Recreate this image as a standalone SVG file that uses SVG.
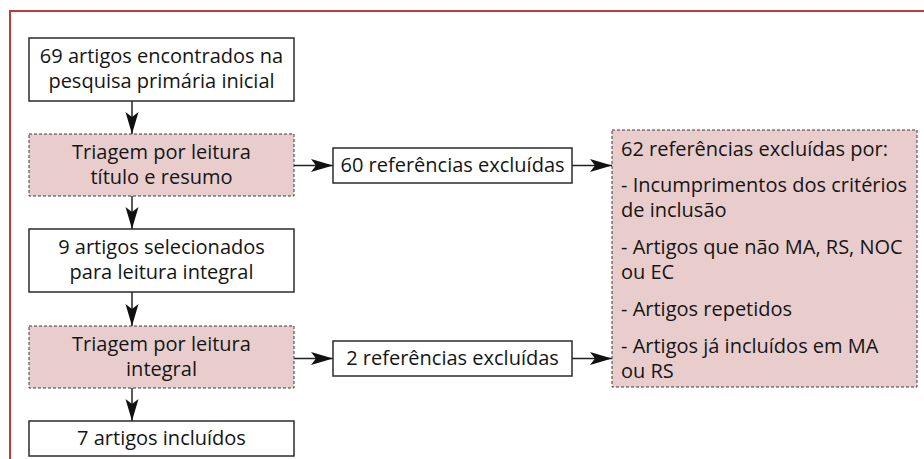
<svg xmlns="http://www.w3.org/2000/svg" width="924" height="459" viewBox="0 0 924 459">
<style>
text{font-family:"Open Sans","DejaVu Sans",sans-serif;font-size:20px;fill:#151515}
.c{text-anchor:middle}
.solid{fill:#fff;stroke:#2b2b2b;stroke-width:1.5}
.dash{fill:#e9cdcd;stroke:#3a3a3a;stroke-width:1;stroke-dasharray:3 2}
.ln{stroke:#222;stroke-width:1.5;fill:none}
</style>
<defs>
<marker id="ah" markerUnits="userSpaceOnUse" markerWidth="24" markerHeight="14" refX="22" refY="7" orient="auto" viewBox="0 0 24 14">
<path d="M0,0.5 L22,7 L0,13.5 L5,7 z" fill="#111"/>
</marker>
</defs>
<rect x="0" y="0" width="924" height="459" fill="#fff"/>
<path d="M10,459 V11 H924" fill="none" stroke="#c0393b" stroke-width="2"/>
<g id="connectors">
<line class="ln" x1="132" y1="101" x2="132" y2="134" marker-end="url(#ah)"/>
<line class="ln" x1="132" y1="196" x2="132" y2="229" marker-end="url(#ah)"/>
<line class="ln" x1="132" y1="292" x2="132" y2="326" marker-end="url(#ah)"/>
<line class="ln" x1="132" y1="388" x2="132" y2="421" marker-end="url(#ah)"/>
<line class="ln" x1="294" y1="165.5" x2="333" y2="165.5" marker-end="url(#ah)"/>
<line class="ln" x1="572" y1="165.5" x2="612" y2="165.5" marker-end="url(#ah)"/>
<line class="ln" x1="294" y1="358.5" x2="333" y2="358.5" marker-end="url(#ah)"/>
<line class="ln" x1="572" y1="358.5" x2="612" y2="358.5" marker-end="url(#ah)"/>
</g>
<g id="n1">
<rect class="solid" x="29" y="38" width="265" height="63"/>
<text class="c" x="161.5" y="63">69 artigos encontrados na</text>
<text class="c" x="161.5" y="88">pesquisa primária inicial</text>
</g>
<g id="n2">
<rect class="dash" x="29" y="134" width="265" height="62"/>
<text class="c" x="161.5" y="159">Triagem por leitura</text>
<text class="c" x="161.5" y="184">título e resumo</text>
</g>
<g id="n3">
<rect class="solid" x="29" y="229" width="265" height="63"/>
<text class="c" x="161.5" y="254">9 artigos selecionados</text>
<text class="c" x="161.5" y="279">para leitura integral</text>
</g>
<g id="n4">
<rect class="dash" x="29" y="326" width="265" height="62"/>
<text class="c" x="161.5" y="351">Triagem por leitura</text>
<text class="c" x="161.5" y="376">integral</text>
</g>
<g id="n5">
<rect class="solid" x="29" y="421" width="265" height="35"/>
<text class="c" x="161.5" y="445">7 artigos incluídos</text>
</g>
<g id="n6">
<rect class="solid" x="333" y="148" width="239" height="35"/>
<text class="c" x="452.5" y="172">60 referências excluídas</text>
</g>
<g id="n7">
<rect class="solid" x="333" y="341" width="239" height="35"/>
<text class="c" x="452.5" y="365">2 referências excluídas</text>
</g>
<g id="n8">
<rect class="dash" x="612" y="130" width="305" height="257"/>
<text x="621" y="156">62 referências excluídas por:</text>
<text x="621" y="192">- Incumprimentos dos critérios</text>
<text x="621" y="217">de inclusão</text>
<text x="621" y="254">- Artigos que não MA, RS, NOC</text>
<text x="621" y="279">ou EC</text>
<text x="621" y="316">- Artigos repetidos</text>
<text x="621" y="353">- Artigos já incluídos em MA</text>
<text x="621" y="378">ou RS</text>
</g>
</svg>
